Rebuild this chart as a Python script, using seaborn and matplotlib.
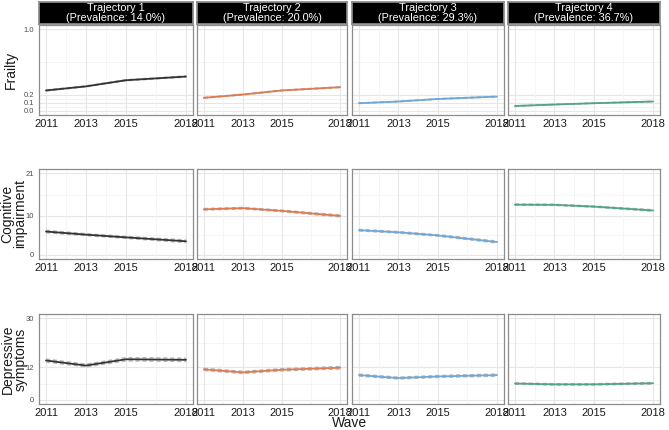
"""Trajectory panels: frailty, cognitive impairment and depressive symptoms by wave."""
import matplotlib
matplotlib.use("Agg")
import matplotlib.pyplot as plt
import seaborn as sns
import pandas as pd

# ---------------------------------------------------------------------------
# Data
# ---------------------------------------------------------------------------
waves = [2011, 2013, 2015, 2018]
trajectories = ["Trajectory 1", "Trajectory 2", "Trajectory 3", "Trajectory 4"]
prevalence = ["14.0%", "20.0%", "29.3%", "36.7%"]
traj_colors = ["#333333", "#E07A50", "#6EA8D8", "#4FA584"]

outcome_labels = ["Frailty", "Cognitive\nimpairment", "Depressive\nsymptoms"]

frailty_mean = [[0.25, 0.30, 0.375, 0.42],
                [0.16, 0.20, 0.25, 0.29],
                [0.094, 0.115, 0.146, 0.175],
                [0.06, 0.078, 0.094, 0.115]]
frailty_lo = [[0.244, 0.294, 0.369, 0.413],
              [0.156, 0.196, 0.246, 0.285],
              [0.091, 0.112, 0.143, 0.171],
              [0.058, 0.076, 0.092, 0.112]]
frailty_hi = [[0.256, 0.306, 0.381, 0.427],
              [0.164, 0.204, 0.254, 0.295],
              [0.097, 0.118, 0.149, 0.179],
              [0.062, 0.080, 0.096, 0.118]]

cog_mean = [[6.0, 5.2, 4.5, 3.5],
            [11.7, 12.0, 11.3, 10.0],
            [6.35, 5.8, 5.0, 3.3],
            [12.9, 12.85, 12.4, 11.4]]
cog_lo = [[5.7, 4.95, 4.25, 3.15],
          [11.5, 11.8, 11.1, 9.75],
          [6.15, 5.6, 4.8, 3.05],
          [12.75, 12.7, 12.25, 11.2]]
cog_hi = [[6.3, 5.45, 4.75, 3.85],
          [11.9, 12.2, 11.5, 10.25],
          [6.55, 6.0, 5.2, 3.55],
          [13.05, 13.0, 12.55, 11.6]]

dep_mean = [[14.45, 12.6, 14.9, 14.7],
            [11.2, 10.1, 11.05, 11.8],
            [9.1, 8.0, 8.6, 9.1],
            [6.0, 5.7, 5.7, 6.1]]
dep_lo = [[13.9, 12.1, 14.3, 14.1],
          [10.8, 9.7, 10.65, 11.35],
          [8.75, 7.65, 8.25, 8.7],
          [5.75, 5.45, 5.45, 5.8]]
dep_hi = [[15.0, 13.1, 15.5, 15.3],
          [11.6, 10.5, 11.45, 12.25],
          [9.45, 8.35, 8.95, 9.5],
          [6.25, 5.95, 5.95, 6.4]]

y_ticks = [[0.0, 0.1, 0.2, 1.0], [0, 10, 21], [0, 12, 30]]
y_tick_labels = [["0.0", "0.1", "0.2", "1.0"], ["0", "10", "21"], ["0", "12", "30"]]
y_minor = [[0.05, 0.15, 0.6], [5, 15.5], [6, 21]]
x_minor = [2012, 2014, 2016.5]

outcomes = [(frailty_mean, frailty_lo, frailty_hi),
            (cog_mean, cog_lo, cog_hi),
            (dep_mean, dep_lo, dep_hi)]

# ---------------------------------------------------------------------------
# Layout (pixel geometry of a 669x430 canvas)
# ---------------------------------------------------------------------------
sns.set_theme(style="white")
plt.rcParams["font.family"] = ["Liberation Sans", "DejaVu Sans"]

W, H = 669, 430
fig = plt.figure(figsize=(W / 100, H / 100), dpi=100)

col_left = [39, 197, 352, 508]
col_right = [193, 347, 504, 660]
row_top = [25, 169, 314]
row_bot = [115, 259, 404]
strip_top = 2
ylab_x = [11, 14, 14]


def px_rect(x0, y0, x1, y1):
    return [x0 / W, 1 - y1 / H, (x1 - x0) / W, (y1 - y0) / H]


for r, (means, los, his) in enumerate(outcomes):
    ticks = y_ticks[r]
    span = ticks[-1] - ticks[0]
    ylim = (ticks[0] - 0.05 * span, ticks[-1] + 0.05 * span)
    for c in range(4):
        ax = fig.add_axes(px_rect(col_left[c], row_top[r], col_right[c], row_bot[r]))
        ax.set_facecolor("white")

        # grid
        for v in y_minor[r]:
            ax.axhline(v, color="#F2F2F2", lw=0.5, zorder=0)
        for v in ticks:
            ax.axhline(v, color="#E6E6E6", lw=0.8, zorder=0)
        for v in x_minor:
            ax.axvline(v, color="#F2F2F2", lw=0.5, zorder=0)
        for v in waves:
            ax.axvline(v, color="#E6E6E6", lw=0.8, zorder=0)

        df = pd.DataFrame({"wave": waves, "mean": means[c],
                           "lo": los[c], "hi": his[c]})
        sns.lineplot(data=df, x="wave", y="mean", ax=ax, color=traj_colors[c],
                     lw=1.3, zorder=3)
        for col in ("lo", "hi"):
            sns.lineplot(data=df, x="wave", y=col, ax=ax, color="#B5B5B5",
                         lw=1.0, linestyle=(0, (3, 2)), zorder=2)

        ax.set_xlim(2011 - 0.35, 2018 + 0.35)
        ax.set_ylim(*ylim)
        ax.set_xticks(waves)
        ax.set_xticklabels([str(w) for w in waves], fontsize=8, color="#1A1A1A")
        ax.set_xlabel("")
        ax.set_ylabel("")
        if c == 0:
            ax.set_yticks(ticks)
            ax.set_yticklabels(y_tick_labels[r], fontsize=5.5, color="#4D4D4D")
            ax.tick_params(axis="y", length=2, width=0.5, color="#555555", pad=1.5)
        else:
            ax.set_yticks([])
        ax.tick_params(axis="x", length=2, width=0.5, color="#555555", pad=1)
        for s in ax.spines.values():
            s.set_edgecolor("#8C8C8C")
            s.set_linewidth(0.9)

        if r == 0:
            sax = fig.add_axes(px_rect(col_left[c], strip_top, col_right[c], row_top[0] - 1))
            sax.set_facecolor("black")
            sax.set_xticks([])
            sax.set_yticks([])
            for s in sax.spines.values():
                s.set_edgecolor("#8C8C8C")
            sax.text(0.5, 0.5, f"{trajectories[c]}\n(Prevalence: {prevalence[c]})",
                     color="white", fontsize=7.8, ha="center", va="center",
                     linespacing=1.0, transform=sax.transAxes)

    # row title, placed in figure pixels
    yc = (row_top[r] + row_bot[r]) / 2
    fig.text(ylab_x[r] / W, 1 - yc / H, outcome_labels[r], fontsize=10,
             color="#1A1A1A", rotation=90, ha="center", va="center",
             multialignment="center", linespacing=0.9)

fig.text(350 / W, 1 - 423 / H, "Wave", fontsize=10, color="#1A1A1A",
         ha="center", va="center")

fig.savefig("out.png", dpi=100)
